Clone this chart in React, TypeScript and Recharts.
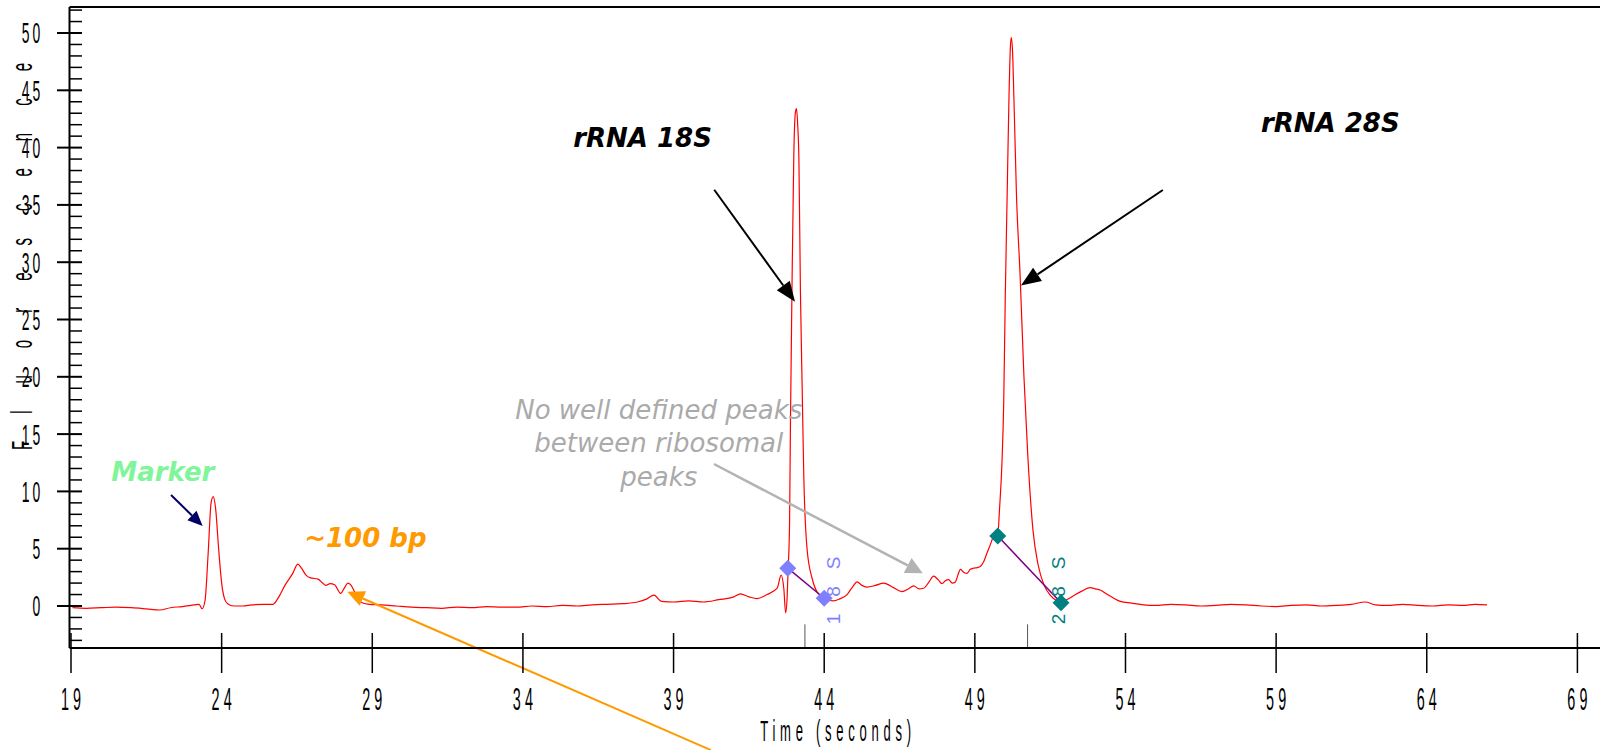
import {
  ComposedChart,
  Line,
  Scatter,
  XAxis,
  YAxis,
  ReferenceLine,
  ReferenceDot,
} from 'recharts';

// electropherogram trace (seconds, fluorescence)
const traceTime = [
  19.05, 19.5, 20.0, 20.5, 21.0, 21.5, 21.95, 22.3, 22.7, 23.1, 23.25, 23.35, 23.45, 23.55, 23.65, 23.72,
  23.8, 23.9, 24.0, 24.1, 24.2, 24.4, 24.7, 25.0, 25.4, 25.7, 25.9, 26.1, 26.35, 26.53, 26.65, 26.8,
  26.95, 27.2, 27.35, 27.46, 27.6, 27.75, 27.95, 28.08, 28.19, 28.3, 28.4, 28.6, 28.9, 29.3, 29.8, 30.3,
  30.8, 31.3, 31.8, 32.3, 32.8, 33.3, 33.8, 34.3, 34.8, 35.3, 35.8, 36.3, 36.8, 37.3, 37.8, 38.1,
  38.35, 38.6, 39.0, 39.5, 40.0, 40.5, 41.0, 41.22, 41.5, 41.77, 42.1, 42.44, 42.57, 42.66, 42.72, 42.77,
  42.8, 42.85, 42.88, 42.93, 42.99, 43.04, 43.08, 43.12, 43.16, 43.21, 43.27, 43.32, 43.43, 43.6, 43.77, 44.0,
  44.3, 44.5, 44.76, 44.95, 45.09, 45.25, 45.42, 45.7, 45.98, 46.3, 46.58, 46.8, 46.97, 47.15, 47.3, 47.48,
  47.63, 47.78, 47.91, 48.02, 48.13, 48.25, 48.35, 48.45, 48.52, 48.65, 48.74, 48.85, 48.96, 49.08, 49.18, 49.3,
  49.4, 49.52, 49.62, 49.7, 49.76, 49.82, 49.9, 49.96, 50.01, 50.07, 50.13, 50.18, 50.21, 50.25, 50.3, 50.38,
  50.5, 50.63, 50.76, 50.93, 51.1, 51.3, 51.5, 51.7, 51.83, 52.05, 52.28, 52.55, 52.83, 53.0, 53.16, 53.4,
  53.6, 53.83, 54.2, 54.6, 55.0, 55.5, 56.0, 56.5, 57.0, 57.5, 58.0, 58.5, 59.0, 59.5, 60.0, 60.5,
  61.0, 61.5, 61.96, 62.3, 62.7, 63.2, 63.7, 64.2, 64.7, 65.2, 65.6, 66.0,
];
const traceSignal = [
  -0.15, -0.2, -0.15, -0.1, -0.15, -0.25, -0.35, -0.15, -0.05, 0.1, 0.15, -0.25, 0.5, 4.5, 9.0, 9.55,
  8.5, 5.0, 2.0, 0.6, 0.2, 0.0, 0.0, 0.1, 0.15, 0.15, 0.8, 1.8, 2.8, 3.65, 3.3, 2.7,
  2.45, 2.35, 2.0, 1.8, 1.95, 1.85, 1.1, 1.6, 2.0, 1.8, 1.3, 0.35, 0.15, 0.1, 0.0, -0.1,
  -0.15, -0.2, -0.1, -0.15, -0.05, -0.1, -0.1, 0.0, -0.05, 0.05, 0.0, 0.1, 0.15, 0.2, 0.35, 0.6,
  0.95, 0.4, 0.35, 0.45, 0.35, 0.55, 0.8, 1.05, 0.8, 0.65, 1.0, 1.55, 2.7, 1.5, -0.6, 0.8,
  3.0, 7.2, 16, 27.6, 39.2, 43, 43.4, 42, 39, 27.6, 18.8, 11.6, 5.0, 2.4, 1.2, 0.7,
  0.45, 0.6, 1.0, 1.7, 2.1, 1.8, 1.65, 1.8, 2.0, 1.6, 1.25, 1.5, 1.75, 1.5, 1.55, 2.1,
  2.6, 2.3, 1.95, 2.2, 2.3, 2.0, 2.1, 2.8, 3.2, 2.9, 2.85, 3.2, 3.3, 3.35, 3.45, 3.9,
  4.6, 5.4, 6.1, 6.4, 6.2, 8.5, 12.5, 18, 27, 35.5, 44, 48.8, 49.6, 48.5, 44, 36,
  29, 20, 13, 6.6, 3.6, 1.8, 0.95, 0.5, 0.38, 0.55, 0.9, 1.3, 1.6, 1.5, 1.4, 1.0,
  0.7, 0.4, 0.25, 0.1, 0.05, 0.15, 0.1, 0.0, 0.05, 0.15, 0.1, 0.0, -0.05, 0.05, 0.1, 0.0,
  0.05, 0.15, 0.35, 0.1, 0.05, 0.15, 0.05, 0.0, 0.1, 0.05, 0.15, 0.1,
];

// peak start/end markers
const peak18Time = [42.79, 44.0];
const peak18Signal = [3.3, 0.68];
const peak28Time = [49.76, 51.86];
const peak28Signal = [6.1, 0.29];

const xTicks = [19, 24, 29, 34, 39, 44, 49, 54, 59, 64, 69];
const yTicks = [
  -3, -2, -1, 0, 1, 2, 3, 4, 5, 6, 7, 8, 9, 10, 11, 12, 13, 14, 15, 16, 17, 18, 19, 20, 21, 22, 23, 24,
  25, 26, 27, 28, 29, 30, 31, 32, 33, 34, 35, 36, 37, 38, 39, 40, 41, 42, 43, 44, 45, 46, 47, 48, 49, 50,
  51, 52,
];

const X_MIN = 18.95;
const X_MAX = 69.75;
const Y_MIN = -3.665;
const Y_MAX = 52.27;

const trace = traceTime.map((t, i) => ({ t, v: traceSignal[i] }));
const marks18 = peak18Time.map((t, i) => ({ t, v: peak18Signal[i] }));
const marks28 = peak28Time.map((t, i) => ({ t, v: peak28Signal[i] }));

const tickFont = '"Liberation Sans", Arial, sans-serif';
const noteFont = '"DejaVu Sans", Verdana, sans-serif';

// axis line is at 648, recharts hands the tick y one pixel lower (axis height 1)
function XTick(props: any) {
  const { x, payload } = props;
  const y = 648;
  return (
    <g>
      <line x1={x} x2={x} y1={y - 15} y2={y + 25} stroke="#000" strokeWidth={1.5} />
      <text
        transform={`translate(${x + 2},${y + 62}) scale(0.45,1)`}
        textAnchor="middle"
        fontSize={32}
        letterSpacing={9}
        fontFamily={tickFont}
        fill="#000"
      >
        {payload.value}
      </text>
    </g>
  );
}

function YTick(props: any) {
  const { y, payload } = props;
  const x = 69.5;
  const major = payload.value % 5 === 0;
  return (
    <g>
      <line x1={major ? x - 12.5 : x} x2={x + 12.5} y1={y} y2={y} stroke="#000" strokeWidth={major ? 2 : 1.5} />
      {major && (
        <text
          transform={`translate(${x - 26.5},${y}) scale(0.48,1)`}
          textAnchor="end"
          dy="0.36em"
          fontSize={29}
          letterSpacing={6}
          fontFamily={tickFont}
          fill="#000"
        >
          {payload.value}
        </text>
      )}
    </g>
  );
}

const diamond = (color: string) => (p: any) => {
  const r = 8.5;
  return (
    <polygon
      points={`${p.cx},${p.cy - r} ${p.cx + r},${p.cy} ${p.cx},${p.cy + r} ${p.cx - r},${p.cy}`}
      fill={color}
    />
  );
};

const arrow = (color: string, width: number, headLen: number, headHalf: number) => (p: any) => {
  const { x1, y1, x2, y2 } = p;
  const len = Math.hypot(x2 - x1, y2 - y1);
  const ux = (x2 - x1) / len;
  const uy = (y2 - y1) / len;
  const bx = x2 - ux * headLen;
  const by = y2 - uy * headLen;
  return (
    <g>
      <line x1={x1} y1={y1} x2={bx} y2={by} stroke={color} strokeWidth={width} />
      <polygon
        points={`${x2},${y2} ${bx - uy * headHalf},${by + ux * headHalf} ${bx + uy * headHalf},${by - ux * headHalf}`}
        fill={color}
      />
    </g>
  );
};

const note = (lines: string[], color: string, bold: boolean) => (p: any) => {
  const gap = 33.5;
  const start = -((lines.length - 1) * gap) / 2;
  return (
    <text
      textAnchor="middle"
      fontFamily={noteFont}
      fontSize={26}
      fontStyle="italic"
      fontWeight={bold ? 'bold' : 'normal'}
      fill={color}
    >
      {lines.map((s, i) => (
        <tspan key={i} x={p.cx} y={p.cy + start + i * gap} dy="0.36em">
          {s}
        </tspan>
      ))}
    </text>
  );
};

const sideLabel = (text: string, color: string) => (p: any) => (
  <text
    transform={`translate(${p.cx},${p.cy - 4}) rotate(-90)`}
    textAnchor="middle"
    dy="0.36em"
    fontFamily={tickFont}
    fontSize={19}
    letterSpacing={17}
    fill={color}
  >
    {text}
  </text>
);

export default function App() {
  return (
    <div style={{ position: 'absolute', left: 0, top: 0, width: 1600, height: 750, background: '#fff' }}>
      <ComposedChart width={1600} height={750} margin={{ top: 7, right: 0, bottom: 101, left: 68.5 }}>
        <XAxis
          dataKey="t"
          type="number"
          domain={[X_MIN, X_MAX]}
          allowDataOverflow
          ticks={xTicks}
          interval={0}
          height={1}
          tickSize={0}
          tickMargin={0}
          tickLine={false}
          axisLine={{ stroke: '#000', strokeWidth: 2 }}
          tick={(p: any) => <XTick {...p} />}
          label={{
            content: () => (
              <text
                transform="translate(838,741) scale(0.45,1)"
                textAnchor="middle"
                fontSize={29}
                letterSpacing={10.5}
                fontFamily={tickFont}
                fill="#000"
              >
                Time (seconds)
              </text>
            ),
          }}
        />
        <YAxis
          dataKey="v"
          type="number"
          domain={[Y_MIN, Y_MAX]}
          allowDataOverflow
          ticks={yTicks}
          interval={0}
          width={1}
          tickSize={0}
          tickMargin={0}
          tickLine={false}
          axisLine={{ stroke: '#000', strokeWidth: 2 }}
          tick={(p: any) => <YTick {...p} />}
          label={{
            content: () => (
              <text
                transform="translate(32,243) rotate(-90) scale(0.5,1)"
                textAnchor="middle"
                fontSize={30}
                letterSpacing={54}
                fontFamily={tickFont}
                fill="#000"
              >
                Fluorescence
              </text>
            ),
          }}
        />
        <ReferenceLine y={Y_MAX} stroke="#000" strokeWidth={2} ifOverflow="visible" />
        <ReferenceLine
          segment={[{ x: 43.36, y: -1.6 }, { x: 43.36, y: Y_MIN }]}
          stroke="#555"
          strokeWidth={1}
          ifOverflow="visible"
        />
        <ReferenceLine
          segment={[{ x: 50.75, y: -1.6 }, { x: 50.75, y: Y_MIN }]}
          stroke="#555"
          strokeWidth={1}
          ifOverflow="visible"
        />
        <Scatter
          data={marks18}
          dataKey="v"
          fill="#8080ff"
          line={{ stroke: '#800080', strokeWidth: 1.5 }}
          shape={diamond('#8080ff')}
          isAnimationActive={false}
        />
        <Scatter
          data={marks28}
          dataKey="v"
          fill="#008080"
          line={{ stroke: '#800080', strokeWidth: 1.5 }}
          shape={diamond('#008080')}
          isAnimationActive={false}
        />
        <Line
          data={trace}
          dataKey="v"
          type="monotone"
          stroke="#ff0000"
          strokeWidth={1.2}
          dot={false}
          isAnimationActive={false}
        />

        {/* annotations */}
        <ReferenceDot x={44.29} y={1.75} ifOverflow="visible" shape={sideLabel('18S', '#8080ff')} />
        <ReferenceDot x={51.77} y={1.75} ifOverflow="visible" shape={sideLabel('28S', '#008080')} />
        <ReferenceDot x={37.97} y={40.84} ifOverflow="visible" shape={note(['rRNA 18S'], '#000', true)} />
        <ReferenceDot x={60.8} y={42.19} ifOverflow="visible" shape={note(['rRNA 28S'], '#000', true)} />
        <ReferenceDot x={22.05} y={11.69} ifOverflow="visible" shape={note(['Marker'], '#80f59a', true)} />
        <ReferenceDot x={28.77} y={5.93} ifOverflow="visible" shape={note(['~100 bp'], '#ff9900', true)} />
        <ReferenceDot
          x={38.51}
          y={14.22}
          ifOverflow="visible"
          shape={note(['No well defined peaks', 'between ribosomal', 'peaks'], '#aaaaaa', false)}
        />
        <ReferenceLine
          segment={[{ x: 40.35, y: 36.32 }, { x: 43.03, y: 26.55 }]}
          ifOverflow="visible"
          shape={arrow('#000', 2, 20, 8)}
        />
        <ReferenceLine
          segment={[{ x: 55.24, y: 36.3 }, { x: 50.53, y: 27.97 }]}
          ifOverflow="visible"
          shape={arrow('#000', 2, 20, 8)}
        />
        <ReferenceLine
          segment={[{ x: 22.32, y: 9.69 }, { x: 23.37, y: 6.98 }]}
          ifOverflow="visible"
          shape={arrow('#000066', 2, 15, 6.5)}
        />
        <ReferenceLine
          segment={[{ x: 40.24, y: -12.57 }, { x: 28.17, y: 1.25 }]}
          ifOverflow="visible"
          shape={arrow('#ff9900', 2, 17, 8)}
        />
        <ReferenceLine
          segment={[{ x: 40.34, y: 12.39 }, { x: 47.27, y: 2.85 }]}
          ifOverflow="visible"
          shape={arrow('#b3b3b3', 2.5, 17, 8.5)}
        />
      </ComposedChart>
    </div>
  );
}
